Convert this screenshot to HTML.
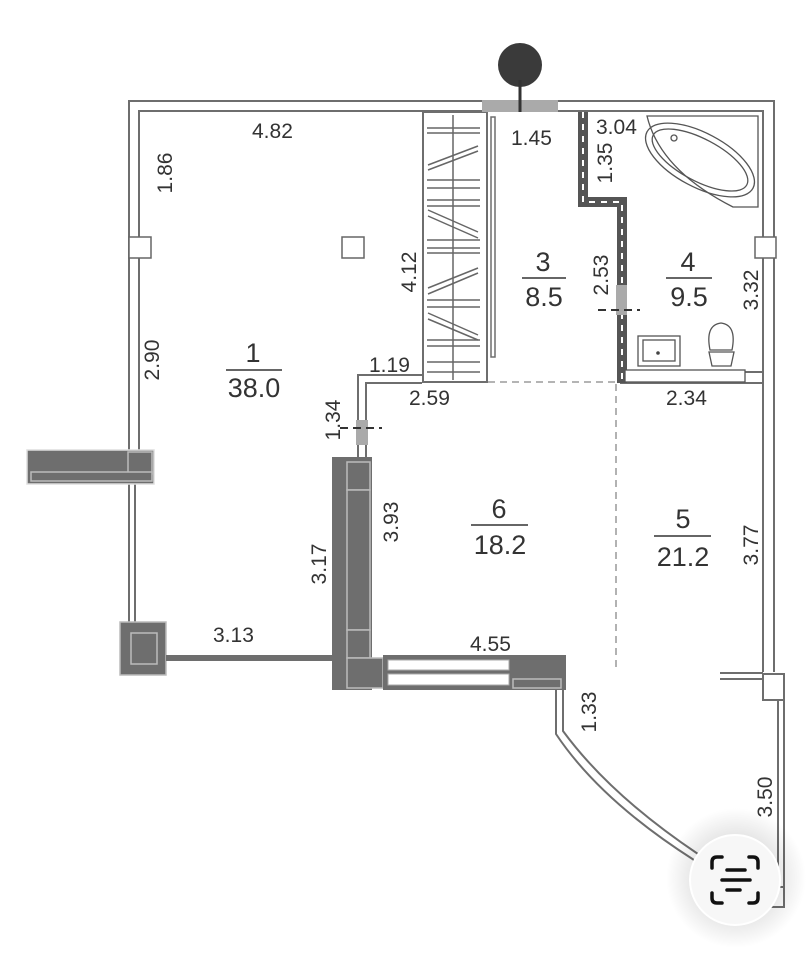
<!DOCTYPE html>
<html><head><meta charset="utf-8"><style>
html,body{margin:0;padding:0;background:#fff;}
svg{display:block;}
text{font-family:"Liberation Sans",sans-serif;fill:#333;}
</style></head><body>
<svg width="806" height="960" viewBox="0 0 806 960" xmlns="http://www.w3.org/2000/svg">
<defs>
<radialGradient id="sh" cx="0.5" cy="0.5" r="0.5">
<stop offset="0.6" stop-color="#000" stop-opacity="0.10"/>
<stop offset="1" stop-color="#000" stop-opacity="0"/>
</radialGradient>
</defs>
<g fill="none" stroke="#6e6e6e" stroke-width="2">
<path d="M129,455 V101 H774 V672"/>
<path d="M139,452 V111 H763 V383"/>
<path d="M129,483 V622 M135,483 V622"/>
<path d="M763,383 V672 M778,700 V887 M784,700 V887"/>
<rect x="763" y="674" width="21" height="26" fill="#fff"/>
<rect x="772" y="887" width="12" height="20" fill="#fff"/>
<path d="M720,673 H763 M720,679 H763"/>
<path d="M556,690 V734 Q600,800 694,860"/>
<path d="M563,690 V731 Q610,795 698,854"/>
<path d="M358,457 V375 H422 M366,457 V383 H422"/>
<path d="M625,372 H763 M620,383 H763"/>
<rect x="423" y="112" width="64" height="270"/>
<line x1="487" y1="382" x2="487" y2="112"/>
<rect x="491" y="117" width="4" height="240" stroke-width="1.5"/>
</g>
<g stroke="#666" stroke-width="1.5">
<line x1="453" y1="115" x2="453" y2="380"/>
<path d="M427,128 H480 M427,133 H480 M427,180 H480 M427,188 H480 M427,200 H480 M427,206 H480 M427,240 H480 M427,248 H480 M427,253 H480 M427,300 H480 M427,307 H480 M427,340 H480 M427,346 H480 M427,362 H480 M427,372 H480"/>
<path d="M428,165 L478,146 M428,170 L478,151 M428,210 L478,232 M428,216 L478,238 M428,288 L478,268 M428,294 L478,273 M428,313 L478,335 M428,319 L478,340"/>
</g>
<rect x="482" y="100" width="76" height="12" fill="#aaa"/>
<circle cx="520" cy="65" r="22" fill="#3a3a3a"/>
<line x1="520" y1="80" x2="520" y2="112" stroke="#333" stroke-width="3"/>
<path d="M583,112 V202 H622 V383" fill="none" stroke="#555" stroke-width="10"/>
<path d="M583,112 V202 H622 V383" fill="none" stroke="#fff" stroke-width="2" stroke-dasharray="6,6"/>
<rect x="616" y="285" width="11" height="30" fill="#aaa"/>
<path d="M598,310 H640" stroke="#333" stroke-width="2" stroke-dasharray="8,5"/>
<rect x="356" y="420" width="12" height="25" fill="#aaa"/>
<path d="M340,428 H382" stroke="#333" stroke-width="2" stroke-dasharray="8,5"/>
<path d="M488,382 H616 M616,384 V670" stroke="#888" stroke-width="1.3" stroke-dasharray="7,5" fill="none"/>
<g fill="none" stroke="#555" stroke-width="1.3">
<path d="M647,116 H758 V207 H733 Q660,170 647,116 Z"/>
<ellipse cx="700" cy="160" rx="60" ry="27" transform="rotate(28 700 160)"/>
<ellipse cx="700" cy="160" rx="53" ry="21" transform="rotate(28 700 160)"/>
<circle cx="674" cy="138" r="3"/>
<rect x="638" y="336" width="42" height="30"/>
<rect x="643" y="340" width="32" height="21"/>
<path d="M710,350 Q705,325 721,323 Q737,325 732,350 Z"/>
<path d="M709,352 H734 L731,366 H712 Z"/>
<rect x="625" y="370" width="120" height="12" fill="#fff"/>
</g>
<circle cx="658" cy="353" r="1.8" fill="#444"/>
<g fill="#fff" stroke="#666" stroke-width="1.5">
<rect x="129" y="237" width="22" height="21"/>
<rect x="342" y="237" width="22" height="21"/>
<rect x="755" y="237" width="21" height="21"/>
</g>
<g fill="#6e6e6e" stroke="#bbb" stroke-width="1.5">
<rect x="27" y="450" width="127" height="34" stroke="#ddd"/>
<rect x="128" y="452" width="24" height="22"/>
<rect x="31" y="472" width="121" height="9"/>
<rect x="120" y="622" width="46" height="53"/>
<rect x="131" y="633" width="26" height="31"/>
<rect x="166" y="655" width="167" height="6" stroke="none"/>
<rect x="332" y="457" width="40" height="233" stroke="none"/>
<rect x="347" y="462" width="23" height="28"/>
<rect x="347" y="490" width="23" height="140"/>
<rect x="347" y="630" width="23" height="28"/>
<rect x="347" y="658" width="36" height="30"/>
<rect x="383" y="655" width="130" height="35" stroke="none"/>
<rect x="513" y="655" width="53" height="35" stroke="none"/>
<rect x="513" y="679" width="48" height="9"/>
</g>
<g fill="#fff" stroke="#aaa" stroke-width="1">
<rect x="388" y="660" width="121" height="10"/>
<rect x="388" y="674" width="121" height="11"/>
</g>
<g font-size="21">
<text x="252" y="138">4.82</text>
<text x="511" y="145">1.45</text>
<text x="596" y="134">3.04</text>
<text x="369" y="372">1.19</text>
<text x="409" y="405">2.59</text>
<text x="666" y="405">2.34</text>
<text x="213" y="642">3.13</text>
<text x="470" y="651">4.55</text>
<text transform="translate(172,173) rotate(-90)" text-anchor="middle">1.86</text>
<text transform="translate(159,360) rotate(-90)" text-anchor="middle">2.90</text>
<text transform="translate(416,272) rotate(-90)" text-anchor="middle">4.12</text>
<text transform="translate(612,163) rotate(-90)" text-anchor="middle">1.35</text>
<text transform="translate(608,275) rotate(-90)" text-anchor="middle">2.53</text>
<text transform="translate(758,290) rotate(-90)" text-anchor="middle">3.32</text>
<text transform="translate(340,420) rotate(-90)" text-anchor="middle">1.34</text>
<text transform="translate(398,522) rotate(-90)" text-anchor="middle">3.93</text>
<text transform="translate(326,564) rotate(-90)" text-anchor="middle">3.17</text>
<text transform="translate(758,545) rotate(-90)" text-anchor="middle">3.77</text>
<text transform="translate(596,712) rotate(-90)" text-anchor="middle">1.33</text>
<text transform="translate(772,797) rotate(-90)" text-anchor="middle">3.50</text>
</g>
<g font-size="27" text-anchor="middle">
<text x="253" y="362">1</text><line x1="226" y1="370" x2="282" y2="370" stroke="#333" stroke-width="1.5"/><text x="254" y="397">38.0</text>
<text x="543" y="271">3</text><line x1="522" y1="278" x2="566" y2="278" stroke="#333" stroke-width="1.5"/><text x="544" y="306">8.5</text>
<text x="688" y="271">4</text><line x1="666" y1="278" x2="712" y2="278" stroke="#333" stroke-width="1.5"/><text x="689" y="306">9.5</text>
<text x="499" y="518">6</text><line x1="471" y1="525" x2="528" y2="525" stroke="#333" stroke-width="1.5"/><text x="500" y="554">18.2</text>
<text x="683" y="528">5</text><line x1="654" y1="536" x2="711" y2="536" stroke="#333" stroke-width="1.5"/><text x="683" y="566">21.2</text>
</g>
<circle cx="736" cy="878" r="70" fill="url(#sh)"/>
<circle cx="735" cy="880" r="45" fill="#f7f7f7" stroke="#fff" stroke-width="2"/>
<g fill="none" stroke="#111" stroke-width="3.5" stroke-linecap="round">
<path d="M712,868 V862 Q712,857 717,857 H722 M749,857 H753 Q758,857 758,862 V868 M758,893 V898 Q758,903 753,903 H749 M722,903 H717 Q712,903 712,898 V893"/>
<path d="M727,870 H745 M722,880 H750 M727,890 H740"/>
</g>
</svg>
</body></html>
